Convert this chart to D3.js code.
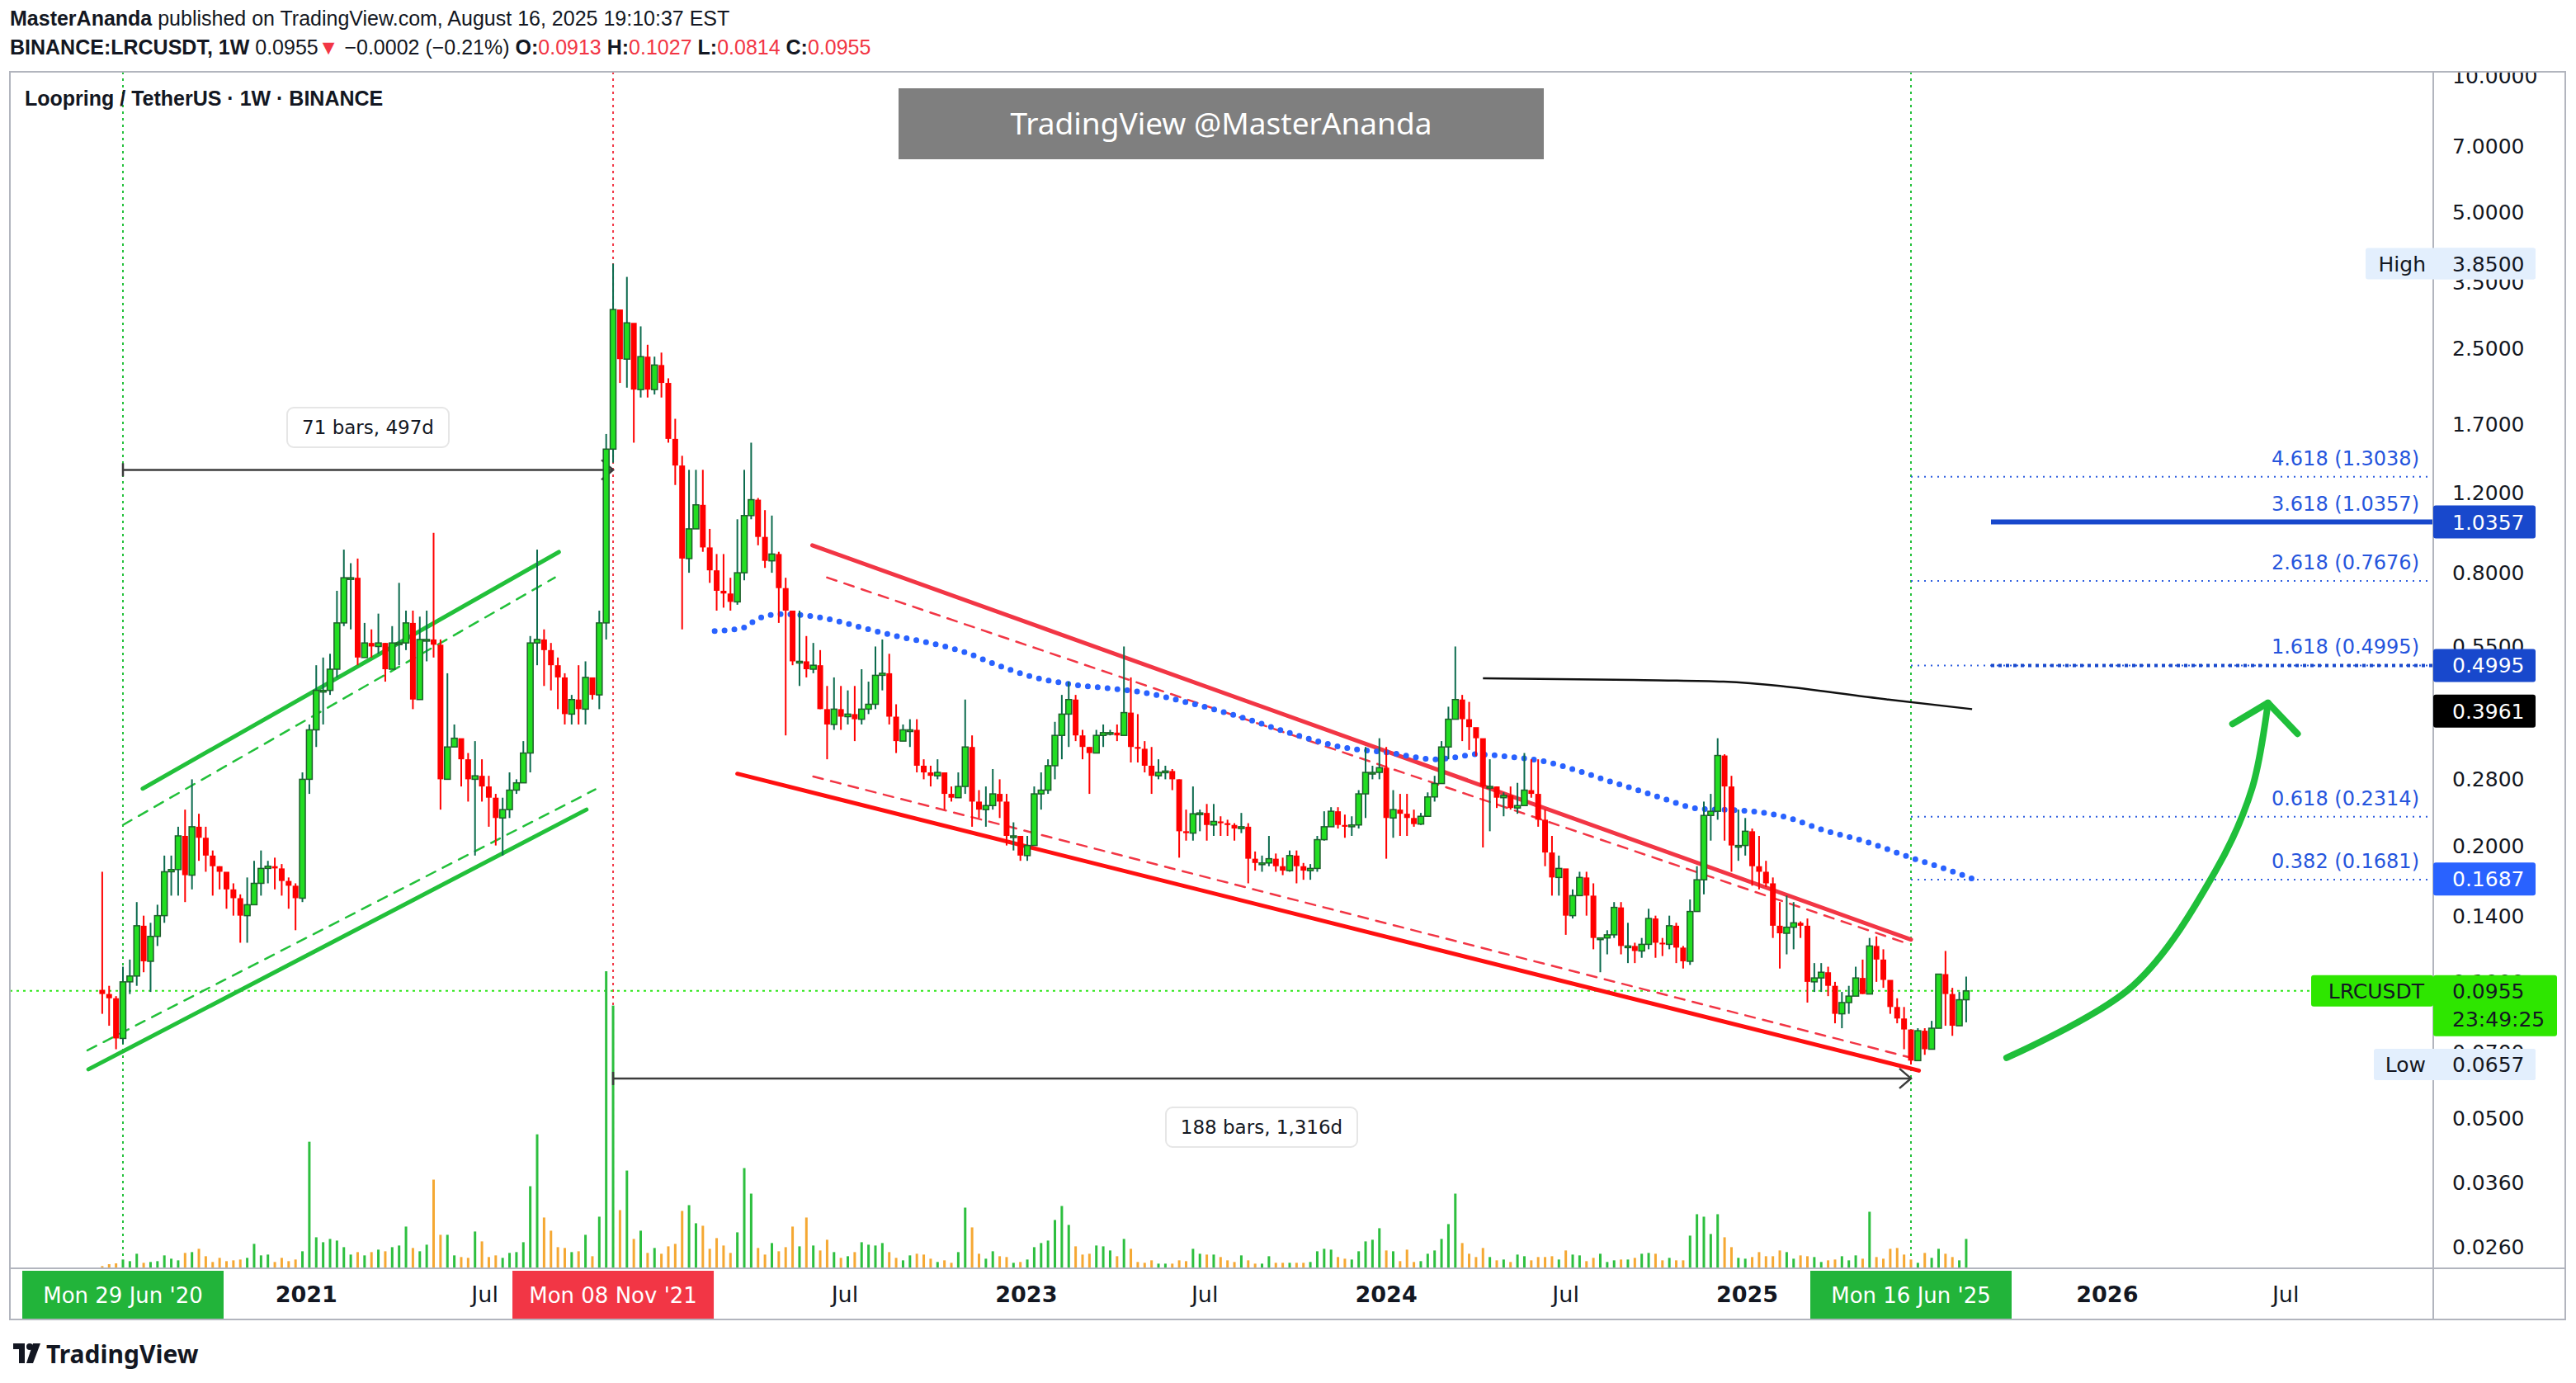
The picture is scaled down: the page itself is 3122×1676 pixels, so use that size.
<!DOCTYPE html>
<html>
<head>
<meta charset="utf-8">
<script src="https://cdn.jsdelivr.net/npm/d3@7"></script>
<style>
  body { margin: 0; background: #fff; }
  svg { display: block; }
</style>
</head>
<body>
<div id="vis-container"></div>
<script>
// Weekly candles, LRCUSDT, first candle week of 8 Jun 2020
const firstWeek = Date.UTC(2020, 5, 8);
const firstOpen = 0.096;

const closes = [
  0.094,0.092,0.075,0.100,0.103,0.133,0.111,0.126,0.140,0.175,
  0.177,0.210,0.172,0.220,0.208,0.190,0.180,0.175,0.160,0.153,
  0.140,0.148,0.165,0.178,0.180,0.178,0.167,0.163,0.153,0.280,
  0.360,0.440,0.440,0.490,0.620,0.780,0.780,0.520,0.560,0.550,
  0.560,0.490,0.560,0.560,0.620,0.420,0.570,0.570,0.555,0.280,
  0.330,0.345,0.310,0.280,0.285,0.270,0.255,0.230,0.240,0.265,
  0.275,0.320,0.560,0.570,0.540,0.500,0.470,0.390,0.420,0.400,
  0.470,0.430,0.620,1.500,
  3.05,2.37,2.85,2.03,2.40,2.03,2.30,2.10,1.58,1.38,
  0.86,1.00,1.13,0.91,0.81,0.73,0.72,0.69,0.80,1.07,
  1.16,0.96,0.85,0.88,0.74,0.66,0.51,0.51,0.49,0.50,
  0.40,0.37,0.40,0.385,0.39,0.38,0.40,0.41,0.475,0.48,
  0.385,0.34,0.36,0.36,0.30,0.29,0.285,0.29,0.26,0.255,
  0.27,0.33,0.25,0.24,0.245,0.26,0.25,0.21,0.21,0.19,
  0.20,0.26,0.265,0.30,0.35,0.39,0.42,0.35,0.33,0.32,
  0.35,0.355,0.355,0.35,
  0.393,0.33,0.327,0.30,0.285,0.29,0.292,0.28,0.215,0.213,
  0.235,0.236,0.222,0.226,0.224,0.222,0.218,0.22,0.187,0.183,
  0.183,0.187,0.18,0.176,0.19,0.18,0.176,0.178,0.206,0.22,
  0.238,0.222,0.22,0.222,0.26,0.29,0.29,0.297,0.23,0.24,
  0.235,0.23,0.223,0.232,0.256,0.274,0.33,0.38,0.42,0.38,
  0.365,0.345,0.27,0.27,0.255,0.258,0.242,0.245,0.265,0.26,
  0.228,0.193,0.17,0.178,0.14,0.155,0.17,0.155,0.125,0.125,
  0.127,0.146,0.12,0.12,
  0.117,0.121,0.138,0.122,0.121,0.133,0.119,0.111,0.143,0.168,
  0.233,0.238,0.316,0.27,0.20,0.20,0.215,0.18,0.175,0.165,
  0.133,0.128,0.132,0.135,0.133,0.10,0.102,0.105,0.098,0.085,
  0.09,0.093,0.102,0.094,0.12,0.112,0.101,0.088,0.083,0.0785,
  0.067,0.078,0.071,0.079,0.104,0.094,0.08,0.0913,0.0955
];

const highs = [
  0.175,0.098,0.093,0.108,0.112,0.15,0.14,0.135,0.148,0.19,
  0.19,0.22,0.24,0.28,0.235,0.22,0.195,0.18,0.17,0.165,
  0.156,0.17,0.185,0.195,0.185,0.188,0.182,0.17,0.165,0.29,
  0.37,0.50,0.52,0.53,0.73,0.90,0.84,0.86,0.62,0.60,
  0.65,0.56,0.61,0.76,0.66,0.66,0.64,0.66,0.98,0.57,
  0.48,0.37,0.33,0.32,0.34,0.31,0.285,0.26,0.255,0.29,
  0.28,0.34,0.58,0.90,0.60,0.56,0.52,0.48,0.43,0.50,
  0.51,0.46,0.66,1.62,
  3.85,2.6,3.6,2.6,2.8,2.55,2.4,2.45,2.15,1.75,
  1.45,1.35,1.35,1.35,1.0,0.88,0.88,0.78,1.05,1.35,
  1.55,1.17,1.1,1.07,0.89,0.78,0.64,0.66,0.58,0.56,
  0.54,0.45,0.47,0.45,0.44,0.45,0.49,0.46,0.55,0.57,
  0.53,0.41,0.37,0.38,0.38,0.31,0.30,0.31,0.29,0.27,
  0.29,0.42,0.35,0.265,0.27,0.295,0.28,0.26,0.225,0.20,
  0.21,0.27,0.29,0.31,0.375,0.43,0.46,0.43,0.36,0.33,
  0.36,0.37,0.36,0.37,
  0.55,0.47,0.39,0.34,0.33,0.31,0.30,0.295,0.28,0.24,
  0.27,0.24,0.247,0.247,0.232,0.228,0.224,0.236,0.224,0.194,
  0.19,0.21,0.192,0.188,0.195,0.195,0.183,0.182,0.21,0.238,
  0.243,0.243,0.234,0.232,0.265,0.33,0.30,0.345,0.33,0.265,
  0.26,0.26,0.24,0.236,0.262,0.285,0.34,0.405,0.55,0.43,
  0.415,0.36,0.33,0.31,0.27,0.262,0.27,0.275,0.32,0.31,
  0.31,0.24,0.21,0.19,0.175,0.16,0.175,0.175,0.165,0.125,
  0.13,0.15,0.15,0.135,
  0.122,0.125,0.145,0.14,0.125,0.14,0.135,0.12,0.152,0.18,
  0.25,0.26,0.345,0.318,0.285,0.24,0.23,0.218,0.21,0.185,
  0.17,0.15,0.155,0.15,0.136,0.138,0.11,0.11,0.108,0.10,
  0.095,0.098,0.108,0.112,0.125,0.126,0.118,0.10,0.092,0.088,
  0.078,0.079,0.079,0.082,0.104,0.117,0.097,0.095,0.1027
];

const lows = [
  0.085,0.080,0.071,0.073,0.094,0.098,0.105,0.095,0.12,0.135,
  0.155,0.155,0.15,0.16,0.185,0.175,0.155,0.16,0.145,0.14,
  0.122,0.122,0.152,0.155,0.165,0.16,0.155,0.145,0.13,0.15,
  0.26,0.33,0.37,0.43,0.47,0.61,0.60,0.50,0.52,0.52,
  0.53,0.46,0.54,0.50,0.54,0.40,0.48,0.51,0.52,0.24,
  0.30,0.33,0.27,0.25,0.19,0.25,0.22,0.20,0.19,0.23,
  0.26,0.29,0.29,0.50,0.45,0.44,0.40,0.37,0.37,0.37,
  0.37,0.42,0.40,0.57,
  1.40,2.1,2.05,1.55,1.95,1.95,1.98,1.95,1.55,1.25,
  0.60,0.80,1.0,0.89,0.76,0.66,0.67,0.66,0.68,0.77,
  1.05,0.92,0.82,0.80,0.62,0.35,0.50,0.45,0.47,0.48,
  0.40,0.31,0.36,0.36,0.37,0.34,0.37,0.39,0.40,0.44,
  0.37,0.32,0.34,0.33,0.29,0.28,0.27,0.28,0.24,0.25,
  0.255,0.26,0.22,0.23,0.22,0.24,0.23,0.20,0.195,0.185,
  0.185,0.25,0.24,0.26,0.28,0.31,0.33,0.34,0.31,0.26,
  0.33,0.33,0.35,0.34,
  0.35,0.305,0.305,0.29,0.26,0.28,0.28,0.265,0.188,0.205,
  0.205,0.215,0.205,0.21,0.21,0.21,0.205,0.213,0.165,0.176,
  0.175,0.18,0.175,0.172,0.175,0.165,0.168,0.168,0.175,0.205,
  0.22,0.218,0.208,0.21,0.218,0.23,0.28,0.28,0.187,0.208,
  0.21,0.21,0.22,0.222,0.24,0.25,0.29,0.31,0.39,0.34,
  0.325,0.315,0.198,0.215,0.242,0.232,0.24,0.235,0.25,0.255,
  0.22,0.18,0.155,0.155,0.127,0.138,0.155,0.14,0.118,0.105,
  0.115,0.125,0.115,0.11,
  0.11,0.113,0.118,0.113,0.114,0.118,0.11,0.107,0.109,0.145,
  0.156,0.205,0.228,0.205,0.175,0.185,0.19,0.163,0.16,0.162,
  0.125,0.107,0.115,0.118,0.125,0.09,0.095,0.095,0.093,0.081,
  0.079,0.085,0.095,0.094,0.094,0.10,0.097,0.085,0.081,0.071,
  0.0657,0.067,0.069,0.071,0.079,0.08,0.076,0.085,0.0814
];

// volume, relative units
const volumes = [
  8,15,18,32,26,53,20,23,26,47,35,29,56,59,71,44,23,38,26,29,
  32,38,89,47,50,23,38,26,32,62,461,113,95,107,101,77,50,59,47,59,
  68,62,77,83,152,74,62,86,323,122,122,47,41,38,134,98,41,47,38,56,
  59,95,299,488,185,137,77,74,59,62,122,44,188,1082,
  957,212,356,107,137,56,74,53,80,89,209,230,164,155,71,110,83,56,131,365,
  272,74,50,92,62,77,152,80,185,83,65,104,59,38,44,59,95,86,83,92,
  59,38,29,47,53,50,35,23,29,20,59,221,149,53,35,62,44,41,20,23,
  32,77,
  92,101,176,227,158,80,50,53,83,80,65,44,107,71,23,20,29,17,17,17,
  29,26,71,53,50,50,41,29,23,47,29,17,17,44,20,20,20,20,20,23,
  62,71,68,41,35,32,62,98,104,146,65,62,26,68,23,26,53,65,107,161,
  272,92,53,41,74,41,29,32,23,50,44,29,41,41,44,32,65,50,47,26,
  38,53,23,29,32,32,38,53,56,53,29,38,29,29,119,197,188,125,197,113,
  77,38,35,41,59,44,44,65,59,35,47,44,41,23,29,32,44,29,47,35,
  206,41,35,71,74,50,32,20,56,38,71,53,41,29,107
];

const priceTicks = [10, 7, 5, 3.5, 2.5, 1.7, 1.2, 0.8, 0.55, 0.28, 0.2, 0.14, 0.1, 0.07, 0.05, 0.036, 0.026];
const timeTicks = [
  ["2021-01-01", "2021", true], ["2021-07-01", "Jul", false], ["2022-07-01", "Jul", false],
  ["2023-01-01", "2023", true], ["2023-07-01", "Jul", false], ["2024-01-01", "2024", true],
  ["2024-07-01", "Jul", false], ["2025-01-01", "2025", true], ["2026-01-01", "2026", true],
  ["2026-07-01", "Jul", false]
];
const markerDates = [["2020-06-29", "Mon 29 Jun '20", "#22b43a"], ["2021-11-08", "Mon 08 Nov '21", "#f23645"], ["2025-06-16", "Mon 16 Jun '25", "#22b43a"]];

const fibLevels = [["4.618", 1.3038], ["3.618", 1.0357], ["2.618", 0.7676], ["1.618", 0.4995], ["0.618", 0.2314], ["0.382", 0.1681]];

// drawn lines as [date, price]
const greenUpper = [["2020-07-19", 0.267], ["2021-09-14", 0.889]];
const greenUpperDash = [["2020-06-29", 0.222], ["2021-09-10", 0.781]];
const greenLowerDash = [["2020-05-24", 0.0706], ["2021-10-21", 0.266]];
const greenLower = [["2020-05-25", 0.0641], ["2021-10-12", 0.240]];
const redUpper = [["2022-05-29", 0.92], ["2025-06-16", 0.124]];
const redUpperDash = [["2022-06-13", 0.781], ["2025-06-15", 0.121]];
const redLower = [["2022-03-14", 0.288], ["2025-06-24", 0.0637]];
const redLowerDash = [["2022-05-30", 0.284], ["2025-06-16", 0.068]];
const blueMA = [
  ["2022-02-19", 0.595], ["2022-03-20", 0.605], ["2022-04-03", 0.632], ["2022-04-25", 0.648],
  ["2022-05-15", 0.646], ["2022-06-15", 0.632], ["2022-07-19", 0.605], ["2022-08-22", 0.58],
  ["2022-09-25", 0.56], ["2022-10-30", 0.535], ["2022-12-03", 0.50], ["2023-01-06", 0.472],
  ["2023-02-09", 0.456], ["2023-04-02", 0.443], ["2023-04-25", 0.437], ["2023-06-15", 0.413],
  ["2023-08-05", 0.385], ["2023-09-26", 0.354], ["2023-11-16", 0.330], ["2024-01-06", 0.32],
  ["2024-02-19", 0.31], ["2024-03-11", 0.313], ["2024-03-31", 0.318], ["2024-05-05", 0.314],
  ["2024-06-08", 0.307], ["2024-07-12", 0.293], ["2024-08-15", 0.277], ["2024-09-05", 0.268],
  ["2024-10-03", 0.256], ["2024-11-14", 0.241], ["2024-12-26", 0.239], ["2025-02-06", 0.232],
  ["2025-03-20", 0.216], ["2025-05-01", 0.204], ["2025-06-16", 0.188], ["2025-07-16", 0.179],
  ["2025-08-17", 0.169]
];
const blackMA = [["2024-04-08", 0.468], ["2024-09-08", 0.464], ["2024-12-08", 0.46], ["2025-05-24", 0.42], ["2025-08-17", 0.40]];
const arrowCurve = [["2025-09-21", 0.068], ["2026-01-27", 0.098], ["2026-04-21", 0.176], ["2026-05-28", 0.268], ["2026-06-13", 0.413]];
const arrowHead = [["2026-05-08", 0.371], ["2026-06-13", 0.413], ["2026-07-13", 0.353]];

const W = 3122, H = 1676;
const plot = { left: 12, top: 87, right: 2949, bottom: 1537 };
const axisBottom = 1599, outerRight = 3109;

const svg = d3.select("#vis-container").append("svg")
  .attr("width", W).attr("height", H).attr("viewBox", [0, 0, W, H]);
svg.append("rect").attr("width", W).attr("height", H).attr("fill", "#fff");

const parse = d3.utcParse("%Y-%m-%d");
const x = d3.scaleUtc().domain([parse("2020-06-29"), parse("2025-06-16")]).range([149, 2316]);
const y = d3.scaleLog().domain([0.026, 10]).range([1511, 92]);
const vy = d3.scaleLinear().domain([0, 1082]).range([plot.bottom, plot.bottom - 360]);

const bars = closes.map((c, i) => {
  const o = i === 0 ? firstOpen : closes[i - 1];
  return { date: new Date(firstWeek + i * 7 * 864e5), o, c, h: highs[i], l: lows[i], v: volumes[i] };
});

const font = "'DejaVu Sans', sans-serif";
const narrow = "'Liberation Sans Narrow', 'Liberation Sans', Arial, sans-serif";

// clip region
svg.append("clipPath").attr("id", "plotclip").append("rect")
  .attr("x", plot.left).attr("y", plot.top).attr("width", plot.right - plot.left).attr("height", plot.bottom - plot.top);
const g = svg.append("g").attr("clip-path", "url(#plotclip)");

// vertical marker lines
markerDates.forEach(([d, , col]) => {
  g.append("line").attr("x1", x(parse(d))).attr("x2", x(parse(d)))
    .attr("y1", plot.top).attr("y2", plot.bottom)
    .attr("stroke", col === "#f23645" ? "#f23645" : "#22c03a").attr("stroke-width", 2).attr("stroke-dasharray", "3 5");
});

// current price line
g.append("line").attr("x1", plot.left).attr("x2", plot.right)
  .attr("y1", y(0.0955)).attr("y2", y(0.0955))
  .attr("stroke", "#2ee61a").attr("stroke-width", 2).attr("stroke-dasharray", "3 5");

// volume
g.selectAll(".vol").data(bars).enter().append("rect")
  .attr("x", d => x(d.date) - 1.5).attr("width", 3)
  .attr("y", d => vy(d.v)).attr("height", d => plot.bottom - vy(d.v))
  .attr("fill", d => d.c >= d.o ? "#2dbf3f" : "#f5a833");

const line = d3.line().x(d => x(parse(d[0]))).y(d => y(d[1]));

// fib levels
fibLevels.forEach(([lvl, p]) => {
  const yy = y(p);
  if (lvl === "3.618") {
    g.append("line").attr("x1", 2413).attr("x2", plot.right).attr("y1", yy).attr("y2", yy)
      .attr("stroke", "#1848cc").attr("stroke-width", 6);
  } else {
    g.append("line").attr("x1", x(parse("2025-06-16"))).attr("x2", plot.right).attr("y1", yy).attr("y2", yy)
      .attr("stroke", "#2f5fe0").attr("stroke-width", 2).attr("stroke-dasharray", "2 6");
  }
  if (lvl === "1.618") {
    g.append("line").attr("x1", 2413).attr("x2", plot.right).attr("y1", yy).attr("y2", yy)
      .attr("stroke", "#1848cc").attr("stroke-width", 4).attr("stroke-dasharray", "4 5");
  }
  g.append("text").attr("x", 2932).attr("y", yy - 14).attr("text-anchor", "end")
    .attr("font-family", font).attr("font-size", 24).attr("fill", "#2555dd")
    .text(`${lvl} (${p.toFixed(4)})`);
});

// channels
const drawLine = (pts, col, w, dash) => g.append("path").attr("d", line(pts)).attr("fill", "none")
  .attr("stroke", col).attr("stroke-width", w).attr("stroke-dasharray", dash || null).attr("stroke-linecap", "round");
drawLine(greenUpper, "#22c03a", 5);
drawLine(greenLower, "#22c03a", 5);
drawLine(greenUpperDash, "#22c03a", 2.5, "12 10");
drawLine(greenLowerDash, "#22c03a", 2.5, "12 10");
drawLine(redUpper, "#f23645", 5);
drawLine(redLower, "#ff1010", 5);
drawLine(redUpperDash, "#f23645", 2.5, "12 10");
drawLine(redLowerDash, "#f23645", 2.5, "12 10");

// moving averages
g.append("path").attr("d", line.curve(d3.curveMonotoneX)(blueMA)).attr("fill", "none")
  .attr("stroke", "#2962ff").attr("stroke-width", 7).attr("stroke-linecap", "round").attr("stroke-dasharray", "0 12");
g.append("path").attr("d", line.curve(d3.curveMonotoneX)(blackMA)).attr("fill", "none")
  .attr("stroke", "#111").attr("stroke-width", 2.5);
line.curve(d3.curveLinear);

// measure lines
function measure(d0, d1, price, label, lx, ly, lw) {
  const x0 = x(parse(d0)), x1 = x(parse(d1)), yy = y(price);
  g.append("line").attr("x1", x0).attr("x2", x1).attr("y1", yy).attr("y2", yy).attr("stroke", "#3c3c3c").attr("stroke-width", 2.5);
  g.append("line").attr("x1", x0).attr("x2", x0).attr("y1", yy - 8).attr("y2", yy + 8).attr("stroke", "#3c3c3c").attr("stroke-width", 2.5);
  g.append("path").attr("d", `M${x1 - 14},${yy - 12}L${x1},${yy}L${x1 - 14},${yy + 12}`).attr("fill", "none").attr("stroke", "#3c3c3c").attr("stroke-width", 2.5);
  g.append("rect").attr("x", lx - lw / 2).attr("y", ly - 24).attr("width", lw).attr("height", 48).attr("rx", 8)
    .attr("fill", "#fff").attr("stroke", "#e6e6e6").attr("stroke-width", 2);
  g.append("text").attr("x", lx).attr("y", ly + 8).attr("text-anchor", "middle")
    .attr("font-family", font).attr("font-size", 23).attr("fill", "#131722").text(label);
}
measure("2020-06-29", "2021-11-08", 1.35, "71 bars, 497d", 446, 518, 196);
measure("2021-11-08", "2025-06-16", 0.0612, "188 bars, 1,316d", 1529, 1366, 232);

// candles
const cg = g.selectAll(".candle").data(bars).enter().append("g");
cg.append("line").attr("x1", d => x(d.date)).attr("x2", d => x(d.date))
  .attr("y1", d => y(d.h)).attr("y2", d => y(d.l))
  .attr("stroke", d => d.c >= d.o ? "#0c6b4e" : "#ff0000").attr("stroke-width", 2);
cg.append("rect").attr("x", d => x(d.date) - 3.5).attr("width", 7)
  .attr("y", d => y(Math.max(d.o, d.c)))
  .attr("height", d => Math.max(2, Math.abs(y(d.o) - y(d.c))))
  .attr("fill", d => d.c >= d.o ? "#22dd22" : "#ff0000")
  .attr("stroke", d => d.c >= d.o ? "#1d5e2a" : "none").attr("stroke-width", 1.5);

// green arrow
g.append("path").attr("d", line.curve(d3.curveCatmullRom)(arrowCurve)).attr("fill", "none")
  .attr("stroke", "#1fbf3a").attr("stroke-width", 8).attr("stroke-linecap", "round");
line.curve(d3.curveLinear);
g.append("path").attr("d", line(arrowHead)).attr("fill", "none")
  .attr("stroke", "#1fbf3a").attr("stroke-width", 8).attr("stroke-linecap", "round").attr("stroke-linejoin", "round");

// watermark box
svg.append("rect").attr("x", 1089).attr("y", 107).attr("width", 782).attr("height", 86).attr("fill", "#7f7f7f");
svg.append("text").attr("x", 1480).attr("y", 163).attr("text-anchor", "middle")
  .attr("font-family", "'Noto Sans', sans-serif").attr("font-size", 37).attr("fill", "#fff").text("TradingView @MasterAnanda");

svg.append("text").attr("x", 30).attr("y", 128).attr("font-family", narrow).attr("font-weight", "bold")
  .attr("font-size", 25).attr("fill", "#131722").text("Loopring / TetherUS · 1W · BINANCE");

// frames
const frame = svg.append("g").attr("fill", "none").attr("stroke", "#b2b5be").attr("stroke-width", 2);
frame.append("rect").attr("x", plot.left).attr("y", plot.top).attr("width", outerRight - plot.left).attr("height", axisBottom - plot.top);
frame.append("line").attr("x1", plot.right).attr("x2", plot.right).attr("y1", plot.top).attr("y2", axisBottom);
frame.append("line").attr("x1", plot.left).attr("x2", outerRight).attr("y1", plot.bottom).attr("y2", plot.bottom);

// price axis
svg.append("clipPath").attr("id", "axisclip").append("rect")
  .attr("x", plot.right).attr("y", plot.top + 1).attr("width", outerRight - plot.right).attr("height", plot.bottom - plot.top);
const ag = svg.append("g").attr("clip-path", "url(#axisclip)");
ag.selectAll(".ptick").data(priceTicks).enter().append("text")
  .attr("x", 2972).attr("y", d => y(d) + 9)
  .attr("font-family", font).attr("font-size", 25).attr("fill", "#131722")
  .text(d => d.toFixed(4));

function priceBox(p, txt, bg, fg, x0, x1, h) {
  const yy = y(p);
  svg.append("rect").attr("x", x0).attr("y", yy - h / 2).attr("width", x1 - x0).attr("height", h).attr("rx", 3).attr("fill", bg);
  svg.append("text").attr("x", 2972).attr("y", yy + 9).attr("font-family", font).attr("font-size", 25).attr("fill", fg).text(txt);
}
// High / Low tags
svg.append("rect").attr("x", 2867).attr("y", y(3.85) - 19).attr("width", 206).attr("height", 38).attr("rx", 3).attr("fill", "#e3effd");
priceBox(3.85, "3.8500", "#e3effd", "#131722", 2949, 3073, 38);
svg.append("text").attr("x", 2940).attr("y", y(3.85) + 9).attr("text-anchor", "end").attr("font-family", font).attr("font-size", 25).attr("fill", "#131722").text("High");
svg.append("rect").attr("x", 2877).attr("y", y(0.0657) - 19).attr("width", 196).attr("height", 38).attr("rx", 3).attr("fill", "#e3effd");
priceBox(0.0657, "0.0657", "#e3effd", "#131722", 2949, 3073, 38);
svg.append("text").attr("x", 2940).attr("y", y(0.0657) + 9).attr("text-anchor", "end").attr("font-family", font).attr("font-size", 25).attr("fill", "#131722").text("Low");
priceBox(1.0357, "1.0357", "#1848cc", "#fff", 2949, 3073, 40);
priceBox(0.4995, "0.4995", "#1848cc", "#fff", 2949, 3073, 40);
priceBox(0.3961, "0.3961", "#000", "#fff", 2949, 3073, 40);
priceBox(0.1687, "0.1687", "#2962ff", "#fff", 2949, 3073, 40);
// last price tag
const ly = y(0.0955);
svg.append("rect").attr("x", 2801).attr("y", ly - 19).attr("width", 148).attr("height", 38).attr("rx", 3).attr("fill", "#2ee600");
svg.append("text").attr("x", 2938).attr("y", ly + 9).attr("text-anchor", "end").attr("font-family", font).attr("font-size", 25).attr("fill", "#131722").text("LRCUSDT");
svg.append("rect").attr("x", 2949).attr("y", ly - 19).attr("width", 150).attr("height", 74).attr("rx", 3).attr("fill", "#2ee600");
svg.append("text").attr("x", 2972).attr("y", ly + 9).attr("font-family", font).attr("font-size", 25).attr("fill", "#131722").text("0.0955");
svg.append("text").attr("x", 2972).attr("y", ly + 43).attr("font-family", font).attr("font-size", 25).attr("fill", "#131722").text("23:49:25");

// time axis
svg.selectAll(".ttick").data(timeTicks).enter().append("text")
  .attr("x", d => x(parse(d[0]))).attr("y", 1578).attr("text-anchor", "middle")
  .attr("font-family", font).attr("font-size", 27).attr("font-weight", d => d[2] ? "bold" : "normal")
  .attr("fill", "#131722").text(d => d[1]);
markerDates.forEach(([d, label, col]) => {
  const xx = x(parse(d));
  svg.append("rect").attr("x", xx - 122).attr("y", 1540).attr("width", 244).attr("height", 58).attr("fill", col);
  svg.append("text").attr("x", xx).attr("y", 1579).attr("text-anchor", "middle")
    .attr("font-family", font).attr("font-size", 26).attr("fill", "#fff").text(label);
});

// header
const h1 = svg.append("text").attr("x", 12).attr("y", 31).attr("font-family", narrow).attr("font-size", 25).attr("fill", "#131722");
h1.append("tspan").attr("font-weight", "bold").text("MasterAnanda");
h1.append("tspan").text(" published on TradingView.com, August 16, 2025 19:10:37 EST");
const h2 = svg.append("text").attr("x", 12).attr("y", 66).attr("font-family", narrow).attr("font-size", 25).attr("fill", "#131722");
h2.append("tspan").attr("font-weight", "bold").text("BINANCE:LRCUSDT, 1W");
h2.append("tspan").text(" 0.0955");
h2.append("tspan").attr("fill", "#f23645").text("▼");
h2.append("tspan").text(" −0.0002 (−0.21%) ");
[["O:", "0.0913"], ["H:", "0.1027"], ["L:", "0.0814"], ["C:", "0.0955"]].forEach(([k, v]) => {
  h2.append("tspan").attr("font-weight", "bold").text(k);
  h2.append("tspan").attr("fill", "#f23645").text(v + " ");
});

// footer logo
const logo = svg.append("g").attr("transform", "translate(16,1628)").attr("fill", "#131722");
logo.append("path").attr("d", "M0,0H14V24H7V7H0Z");
logo.append("circle").attr("cx", 20).attr("cy", 4).attr("r", 4);
logo.append("path").attr("d", "M24,0H33L24,24H16Z");
svg.append("text").attr("x", 56).attr("y", 1652).attr("font-family", "'Noto Sans', sans-serif").attr("font-weight", "bold")
  .attr("font-size", 30).attr("fill", "#131722").text("TradingView");
</script>
</body>
</html>
